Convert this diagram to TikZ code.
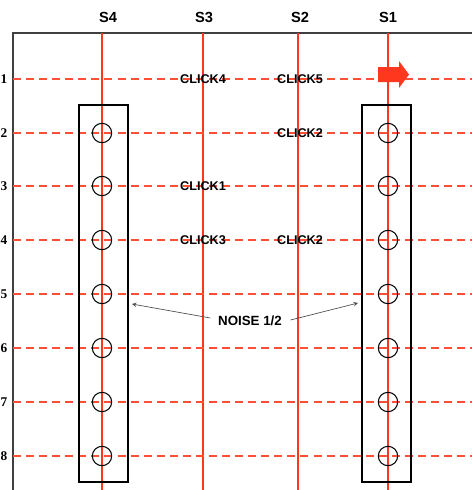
\documentclass[tikz,border=0pt]{standalone}
\usepackage{fontspec}
\setmainfont{Liberation Serif}
\setsansfont{Liberation Sans}
\definecolor{wirered}{RGB}{255,55,30}
\definecolor{rowred}{RGB}{255,80,55}
\tikzset{
  wire/.style={wirered,line width=1.1pt},
  row/.style={rowred,line width=1.1pt,dash pattern=on 6pt off 3.8pt},
  chan/.style={font=\sffamily\bfseries\fontsize{11}{13}\selectfont},
  rowlab/.style={font=\bfseries\fontsize{10}{12}\selectfont},
  click/.style={font=\sffamily\bfseries\fontsize{9.5}{11}\selectfont},
  hole/.style={draw,black,line width=0.8pt,circle,minimum size=14.5pt,inner sep=0pt},
  bank/.style={draw,black,line width=1.1pt},
  pointer/.style={->,>=stealth,black!70,line width=0.5pt}
}
\begin{document}
\begin{tikzpicture}[x=0.75pt,y=-0.75pt]
\useasboundingbox (0,0) rectangle (472,490);
% frame
\draw[black!75,line width=0.8pt] (13,490) -- (13,33) -- (472,33);
% channel wires
\draw[wire] (102,33) -- (102,490);
\draw[wire] (203,33) -- (203,490);
\draw[wire] (298,33) -- (298,490);
\draw[wire] (388,33) -- (388,490);
\node[chan] (s4) at (108,17) {S4};
\node[chan] (s3) at (204,17) {S3};
\node[chan] (s2) at (300,17) {S2};
\node[chan] (s1) at (388,17) {S1};
% time rows
\draw[row] (13,79) -- (472,79);
\draw[row] (13,133) -- (472,133);
\draw[row] (13,186) -- (472,186);
\draw[row] (13,240) -- (472,240);
\draw[row] (13,294) -- (472,294);
\draw[row] (13,348) -- (472,348);
\draw[row] (13,402) -- (472,402);
\draw[row] (13,456) -- (472,456);
\node[rowlab] (r1) at (4,79) {1};
\node[rowlab] (r2) at (4,133) {2};
\node[rowlab] (r3) at (4,186) {3};
\node[rowlab] (r4) at (4,240) {4};
\node[rowlab] (r5) at (4,294) {5};
\node[rowlab] (r6) at (4,348) {6};
\node[rowlab] (r7) at (4,402) {7};
\node[rowlab] (r8) at (4,456) {8};
% noise banks
\draw[bank] (79,105) rectangle (128,482);
\draw[bank] (362,105) rectangle (411,482);
\foreach \y in {133,186,240,294,348,402,456} {
  \node[hole] at (102,\y) {};
  \node[hole] at (388,\y) {};
}
% clicks
\node[click] (c4) at (203,79) {CLICK4};
\node[click] (c5) at (300,79) {CLICK5};
\node[click] (c2a) at (300,133) {CLICK2};
\node[click] (c1) at (203,186) {CLICK1};
\node[click] (c3) at (203,240) {CLICK3};
\node[click] (c2b) at (300,240) {CLICK2};
% trigger arrow
\fill[wirered] (378,67) -- (399,67) -- (399,61) -- (409,74.5) -- (399,88) -- (399,82) -- (378,82) -- cycle;
% noise label
\node[click,font=\sffamily\bfseries\fontsize{10}{12}\selectfont] (noise) at (250,321) {NOISE 1/2};
\coordinate (nl) at (132,304);
\coordinate (nr) at (358,303);
\draw[pointer] (noise.west) ++(-3,-3) -- (nl);
\draw[pointer] (noise.east) ++(4,-1) -- (nr);
\end{tikzpicture}
\end{document}
